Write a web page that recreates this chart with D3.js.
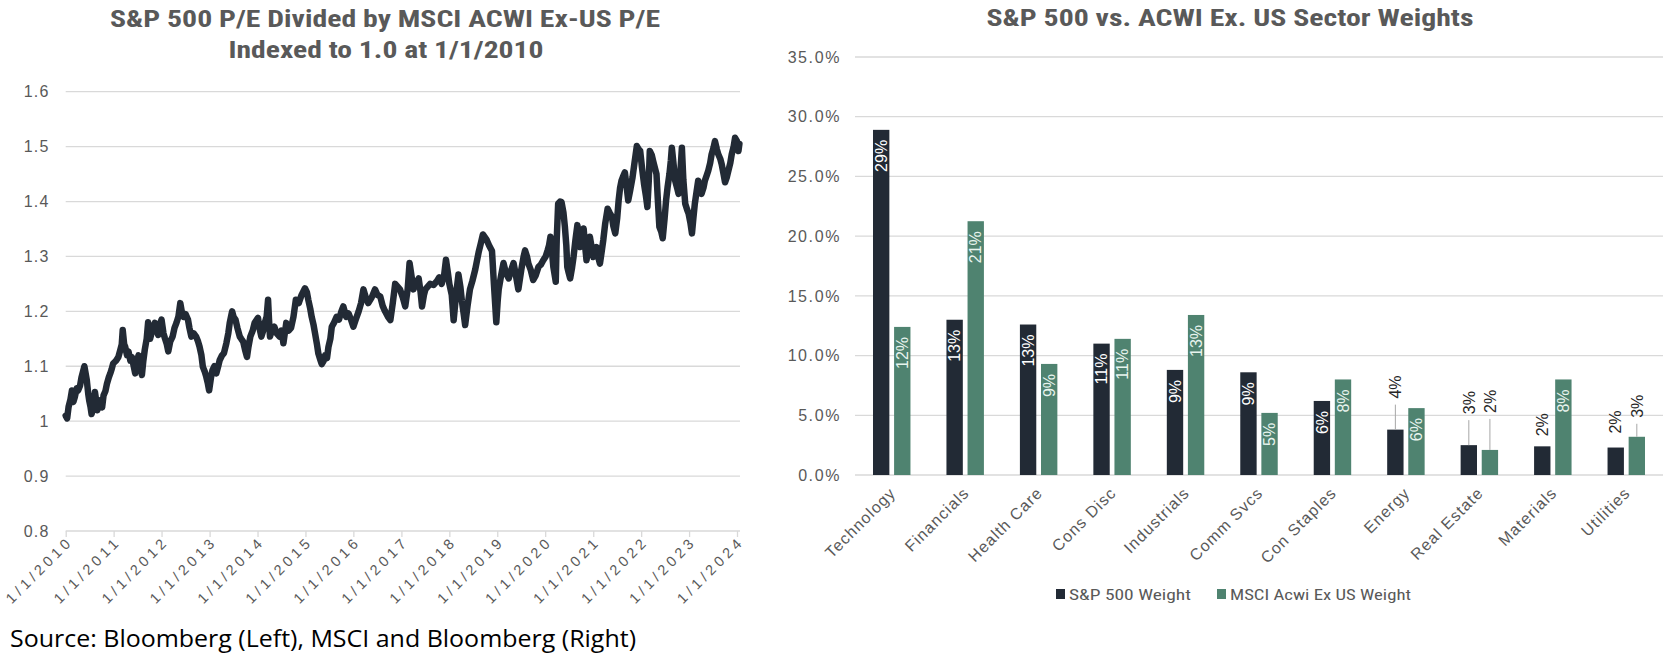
<!DOCTYPE html>
<html><head><meta charset="utf-8">
<script src="https://cdn.jsdelivr.net/npm/d3@7"></script>
<style>
html,body{margin:0;padding:0;background:#fff;}
svg{display:block;}
</style></head>
<body>
<svg id="chart" width="1672" height="655"></svg>
<script>
// ---------------- DATA ----------------
// Left chart: S&P 500 P/E / MSCI ACWI ex-US P/E, indexed (decimal year, value)
const lineYears = [
2010.00,2010.03,2010.06,2010.10,2010.13,2010.16,2010.19,2010.23,2010.26,2010.30,2010.33,2010.36,2010.39,2010.42,2010.44,2010.47,2010.49,2010.52,2010.54,2010.58,
2010.61,2010.64,2010.66,2010.69,2010.72,2010.76,2010.79,2010.83,2010.86,2010.90,2010.93,2010.96,2010.99,2011.05,2011.10,2011.14,2011.17,2011.19,2011.22,2011.24,
2011.28,2011.31,2011.35,2011.38,2011.42,2011.45,2011.49,2011.52,2011.56,2011.59,2011.62,2011.65,2011.69,2011.72,2011.76,2011.79,2011.83,2011.86,2011.90,2011.93,
2011.96,2012.00,2012.04,2012.07,2012.11,2012.14,2012.18,2012.23,2012.27,2012.31,2012.35,2012.39,2012.42,2012.46,2012.50,2012.55,2012.58,2012.62,2012.67,2012.72,
2012.76,2012.79,2012.83,2012.86,2012.90,2012.93,2012.96,2012.99,2013.03,2013.06,2013.10,2013.14,2013.18,2013.21,2013.26,2013.30,2013.35,2013.39,2013.42,2013.47,
2013.50,2013.54,2013.58,2013.63,2013.66,2013.70,2013.74,2013.78,2013.81,2013.85,2013.90,2013.94,2014.01,2014.04,2014.08,2014.12,2014.15,2014.19,2014.22,2014.24,
2014.26,2014.30,2014.35,2014.40,2014.46,2014.50,2014.54,2014.60,2014.65,2014.70,2014.75,2014.80,2014.86,2014.92,2014.99,2015.03,2015.06,2015.10,2015.13,2015.17,
2015.20,2015.24,2015.27,2015.31,2015.34,2015.38,2015.41,2015.45,2015.48,2015.52,2015.55,2015.60,2015.65,2015.70,2015.75,2015.79,2015.85,2015.90,2015.95,2016.00,
2016.05,2016.11,2016.16,2016.21,2016.26,2016.31,2016.38,2016.45,2016.50,2016.56,2016.61,2016.66,2016.72,2016.77,2016.82,2016.87,2016.92,2016.97,2017.03,2017.08,
2017.13,2017.17,2017.21,2017.25,2017.30,2017.36,2017.40,2017.43,2017.47,2017.50,2017.55,2017.60,2017.67,2017.74,2017.79,2017.84,2017.89,2017.93,2017.97,2018.00,
2018.05,2018.09,2018.14,2018.19,2018.23,2018.26,2018.30,2018.33,2018.38,2018.43,2018.48,2018.54,2018.61,2018.66,2018.70,2018.74,2018.78,2018.83,2018.89,2018.93,
2018.98,2019.01,2019.03,2019.08,2019.13,2019.18,2019.24,2019.29,2019.34,2019.39,2019.44,2019.50,2019.55,2019.58,2019.62,2019.65,2019.70,2019.75,2019.80,2019.86,
2019.91,2019.96,2020.01,2020.05,2020.08,2020.11,2020.14,2020.17,2020.20,2020.22,2020.24,2020.27,2020.31,2020.34,2020.38,2020.41,2020.44,2020.46,2020.49,2020.52,
2020.56,2020.59,2020.63,2020.67,2020.70,2020.73,2020.77,2020.80,2020.83,2020.86,2020.90,2020.93,2020.97,2021.00,2021.03,2021.07,2021.10,2021.14,2021.17,2021.21,
2021.25,2021.30,2021.34,2021.39,2021.42,2021.46,2021.50,2021.53,2021.56,2021.59,2021.62,2021.66,2021.70,2021.73,2021.77,2021.82,2021.86,2021.91,2021.95,2021.98,
2022.02,2022.06,2022.10,2022.13,2022.16,2022.18,2022.22,2022.25,2022.29,2022.32,2022.35,2022.38,2022.42,2022.45,2022.49,2022.52,2022.55,2022.59,2022.62,2022.64,
2022.68,2022.71,2022.75,2022.78,2022.82,2022.85,2022.88,2022.92,2022.96,2022.99,2023.03,2023.06,2023.09,2023.12,2023.16,2023.19,2023.23,2023.26,2023.30,2023.33,
2023.37,2023.40,2023.44,2023.47,2023.51,2023.54,2023.58,2023.61,2023.65,2023.68,2023.72,2023.75,2023.79,2023.82,2023.86,2023.89,2023.93,2023.96,2024.00,2024.03,
2024.05];
const lineValues = [
1.010,1.005,1.026,1.040,1.056,1.035,1.044,1.060,1.056,1.065,1.080,1.090,1.100,1.085,1.075,1.050,1.038,1.025,1.013,1.030,
1.053,1.035,1.020,1.030,1.038,1.025,1.047,1.055,1.068,1.080,1.087,1.095,1.105,1.110,1.117,1.130,1.140,1.166,1.140,1.136,
1.120,1.127,1.110,1.117,1.100,1.087,1.110,1.120,1.100,1.084,1.110,1.130,1.150,1.180,1.150,1.160,1.170,1.179,1.165,1.157,
1.175,1.185,1.160,1.151,1.140,1.127,1.145,1.154,1.170,1.179,1.190,1.215,1.200,1.190,1.195,1.185,1.170,1.154,1.160,1.154,
1.145,1.136,1.120,1.099,1.090,1.081,1.070,1.056,1.080,1.093,1.100,1.087,1.100,1.111,1.120,1.124,1.142,1.160,1.179,1.200,
1.190,1.185,1.170,1.154,1.150,1.145,1.130,1.117,1.135,1.154,1.165,1.179,1.188,1.170,1.154,1.165,1.179,1.190,1.221,1.185,
1.154,1.165,1.172,1.160,1.154,1.165,1.142,1.179,1.165,1.170,1.190,1.221,1.215,1.230,1.242,1.235,1.221,1.205,1.190,1.175,
1.160,1.140,1.123,1.112,1.104,1.110,1.120,1.115,1.135,1.150,1.172,1.180,1.190,1.185,1.200,1.209,1.190,1.196,1.185,1.172,
1.185,1.200,1.215,1.240,1.225,1.215,1.225,1.240,1.230,1.227,1.210,1.200,1.190,1.184,1.215,1.250,1.245,1.240,1.225,1.209,
1.240,1.288,1.265,1.240,1.250,1.260,1.235,1.209,1.230,1.240,1.245,1.250,1.248,1.255,1.262,1.250,1.265,1.294,1.270,1.250,
1.230,1.184,1.230,1.267,1.245,1.220,1.195,1.175,1.210,1.240,1.255,1.276,1.307,1.325,1.340,1.335,1.330,1.320,1.310,1.250,
1.180,1.220,1.240,1.265,1.288,1.270,1.260,1.275,1.288,1.265,1.240,1.275,1.300,1.311,1.300,1.287,1.275,1.257,1.265,1.281,
1.285,1.293,1.300,1.311,1.320,1.336,1.310,1.281,1.265,1.254,1.330,1.396,1.400,1.399,1.380,1.354,1.320,1.281,1.270,1.260,
1.280,1.299,1.330,1.357,1.340,1.317,1.335,1.351,1.320,1.293,1.315,1.336,1.315,1.299,1.305,1.317,1.300,1.287,1.305,1.330,
1.360,1.387,1.380,1.372,1.355,1.342,1.370,1.402,1.425,1.438,1.445,1.453,1.425,1.402,1.420,1.444,1.470,1.501,1.495,1.492,
1.460,1.432,1.410,1.390,1.440,1.492,1.485,1.474,1.460,1.450,1.400,1.354,1.345,1.333,1.370,1.402,1.425,1.450,1.475,1.498,
1.465,1.438,1.425,1.414,1.455,1.498,1.440,1.396,1.385,1.378,1.360,1.342,1.370,1.396,1.420,1.438,1.425,1.414,1.425,1.438,
1.448,1.456,1.470,1.486,1.498,1.510,1.495,1.486,1.478,1.468,1.450,1.435,1.445,1.456,1.470,1.486,1.500,1.516,1.510,1.492,
1.505];
const ratioTicks = [0.8,0.9,1.0,1.1,1.2,1.3,1.4,1.5,1.6];
const yearTicks = [2010,2011,2012,2013,2014,2015,2016,2017,2018,2019,2020,2021,2022,2023,2024];

// Right chart: sector weights (%)
const categories = ["Technology","Financials","Health Care","Cons Disc","Industrials","Comm Svcs","Con Staples","Energy","Real Estate","Materials","Utilities"];
const spWeights   = [28.9,13.0,12.6,11.0,8.8,8.6,6.2,3.8,2.5,2.4,2.3];
const acwiWeights = [12.4,21.25,9.3,11.4,13.4,5.2,8.0,5.6,2.1,8.0,3.2];
const seriesNames = ["S&P 500 Weight","MSCI Acwi Ex US Weight"];
const pctTicks = [0,5,10,15,20,25,30,35];

const leftTitle = ["S&P 500 P/E Divided by MSCI ACWI Ex-US P/E","Indexed to 1.0 at 1/1/2010"];
const rightTitle = "S&P 500 vs. ACWI Ex. US Sector Weights";
const sourceText = "Source: Bloomberg (Left), MSCI and Bloomberg (Right)";

// ---------------- STYLE ----------------
const DARK = "#222a35", GREEN = "#4f8370", GRID = "#d9d9d9", AXTXT = "#595959";
const TITLEFONT = "'Liberation Sans Narrow','Roboto Condensed','Liberation Sans',Arial,sans-serif";
const BODYFONT = "'Liberation Sans',Arial,sans-serif";

const svg = d3.select("#chart");

// ---------------- LEFT CHART ----------------
function decToDate(v){
  const y0 = Math.floor(v);
  const s = new Date(y0,0,1), e = new Date(y0+1,0,1);
  return new Date(+s + (v-y0)*(e-s));
}
const L = {x0:65.7, x1:737, gridEnd:740, yTop:91.7, yBot:531};
const xT = d3.scaleTime().domain([new Date(2010,0,1), new Date(2024,0,1)]).range([L.x0, L.x1]);
const yR = d3.scaleLinear().domain([0.8,1.6]).range([L.yBot, L.yTop]);

const gL = svg.append("g");
gL.append("g").selectAll("line").data(ratioTicks).join("line")
  .attr("x1", L.x0).attr("x2", L.gridEnd)
  .attr("y1", d=>yR(d)).attr("y2", d=>yR(d))
  .attr("stroke", GRID).attr("stroke-width", 1.3);
gL.append("g").selectAll("text").data(ratioTicks).join("text")
  .attr("x", 49.5).attr("y", d=>yR(d)).attr("dy","0.36em")
  .attr("text-anchor","end").attr("font-family",BODYFONT).attr("font-size",16)
  .attr("letter-spacing",1.2)
  .attr("fill",AXTXT).text(d=>String(+d.toFixed(1)));
const xAxis = d3.axisBottom(xT).tickValues(yearTicks.map(y=>new Date(y,0,1)))
  .tickSize(6).tickFormat(d3.timeFormat("1/1/%Y"));
const gx = gL.append("g").attr("transform",`translate(0,${L.yBot})`).call(xAxis);
gx.select(".domain").remove();
gx.selectAll(".tick line").attr("stroke",GRID).attr("stroke-width",1.3);
gx.selectAll(".tick text")
  .attr("font-family",BODYFONT).attr("font-size",14.5).attr("fill",AXTXT)
  .attr("text-anchor","end").attr("dy",null).attr("y",null)
  .attr("transform","translate(5,14) rotate(-45)")
  .attr("textLength",84).attr("lengthAdjust","spacing");
const lineData = lineYears.map((y,i)=>({date:decToDate(y), v:lineValues[i]}));
gL.append("path").datum(lineData)
  .attr("fill","none").attr("stroke",DARK).attr("stroke-width",6.5)
  .attr("stroke-linejoin","round").attr("stroke-linecap","round")
  .attr("d", d3.line().x(d=>xT(d.date)).y(d=>yR(d.v)));
gL.append("text").attr("x",385).attr("y",27).attr("text-anchor","middle")
  .attr("font-family",TITLEFONT).attr("font-weight","bold").attr("font-size",23)
  .attr("fill",AXTXT).attr("textLength",550).attr("lengthAdjust","spacingAndGlyphs").text(leftTitle[0]);
gL.append("text").attr("x",386).attr("y",58).attr("text-anchor","middle")
  .attr("font-family",TITLEFONT).attr("font-weight","bold").attr("font-size",23)
  .attr("fill",AXTXT).attr("textLength",315).attr("lengthAdjust","spacingAndGlyphs").text(leftTitle[1]);

// ---------------- RIGHT CHART ----------------
const R = {x0:855, x1:1663, gridX0:855, yTop:57, yBot:475};
const x0 = d3.scaleBand().domain(categories).range([R.x0,R.x1]).paddingInner(0.49).paddingOuter(0.245);
const x1 = d3.scaleBand().domain(seriesNames).range([0, x0.bandwidth()]).paddingInner(0.224);
const yP = d3.scaleLinear().domain([0,35]).range([R.yBot,R.yTop]);

const gR = svg.append("g");
gR.append("g").selectAll("line").data(pctTicks).join("line")
  .attr("x1", R.gridX0).attr("x2", R.x1)
  .attr("y1", d=>yP(d)).attr("y2", d=>yP(d))
  .attr("stroke", GRID).attr("stroke-width", 1.3);
gR.append("g").selectAll("text").data(pctTicks).join("text")
  .attr("x", 841).attr("y", d=>yP(d)).attr("dy","0.36em")
  .attr("text-anchor","end").attr("font-family",BODYFONT).attr("font-size",16)
  .attr("letter-spacing",1.6)
  .attr("fill",AXTXT).text(d=>d3.format(".1%")(d/100));

const barRows = [];
categories.forEach((c,i)=>{
  barRows.push({cat:c, s:0, v:spWeights[i]});
  barRows.push({cat:c, s:1, v:acwiWeights[i]});
});
const colors = [DARK, GREEN];
gR.append("g").selectAll("rect").data(barRows).join("rect")
  .attr("x", d=>x0(d.cat)+x1(seriesNames[d.s]))
  .attr("width", x1.bandwidth())
  .attr("y", d=>yP(d.v)).attr("height", d=>yP(0)-yP(d.v))
  .attr("fill", d=>colors[d.s]);

const outside = {
  "Energy|0":{lift:31, leader:true},
  "Real Estate|0":{lift:31, leader:true},
  "Real Estate|1":{lift:37, leader:true},
  "Materials|0":{lift:10, leader:false},
  "Utilities|0":{lift:14, leader:false},
  "Utilities|1":{lift:19, leader:true}
};
const gLab = gR.append("g");
barRows.forEach(d=>{
  const cx = x0(d.cat)+x1(seriesNames[d.s])+x1.bandwidth()/2;
  const top = yP(d.v);
  const label = Math.round(d.v)+"%";
  const o = outside[d.cat+"|"+d.s];
  if(o){
    const yb = top - o.lift;
    if(o.leader){
      gLab.append("line").attr("x1",cx).attr("x2",cx).attr("y1",yb+6).attr("y2",top)
        .attr("stroke","#a6a6a6").attr("stroke-width",1);
    }
    gLab.append("text").attr("transform",`translate(${cx},${yb}) rotate(-90)`)
      .attr("text-anchor","start").attr("dy","0.36em")
      .attr("font-family",BODYFONT).attr("font-size",16).attr("fill","#262626").text(label);
  } else {
    gLab.append("text").attr("transform",`translate(${cx},${top+10}) rotate(-90)`)
      .attr("text-anchor","end").attr("dy","0.36em")
      .attr("font-family",BODYFONT).attr("font-size",16)
      .attr("fill", d.s===0 ? "#ffffff" : "#e8f4ee").text(label);
  }
});
gR.append("g").selectAll("text").data(categories).join("text")
  .attr("transform", d=>`translate(${x0(d)+x0.bandwidth()/2+5},${R.yBot+19}) rotate(-45)`)
  .attr("text-anchor","end").attr("font-family",BODYFONT).attr("font-size",16)
  .attr("letter-spacing",1.1)
  .attr("fill",AXTXT).text(d=>d);
gR.append("text").attr("x",1230).attr("y",26).attr("text-anchor","middle")
  .attr("font-family",TITLEFONT).attr("font-weight","bold").attr("font-size",23)
  .attr("fill",AXTXT).attr("textLength",487).attr("lengthAdjust","spacingAndGlyphs").text(rightTitle);
const legX = [1056, 1217], legW = [122, 181];
const gLeg = gR.append("g");
seriesNames.forEach((n,i)=>{
  gLeg.append("rect").attr("x",legX[i]).attr("y",589).attr("width",9).attr("height",10).attr("fill",colors[i]);
  gLeg.append("text").attr("x",legX[i]+13).attr("y",599.5)
    .attr("font-family",TITLEFONT).attr("font-size",15).attr("fill",AXTXT)
    .attr("textLength",legW[i]).attr("lengthAdjust","spacingAndGlyphs").text(n);
});

// ---------------- SOURCE ----------------
svg.append("text").attr("x",10).attr("y",647)
  .attr("font-family","'Open Sans','Noto Sans',sans-serif").attr("font-size",23).attr("fill","#000")
  .attr("textLength",626).attr("lengthAdjust","spacingAndGlyphs").text(sourceText);
</script>
</body></html>
